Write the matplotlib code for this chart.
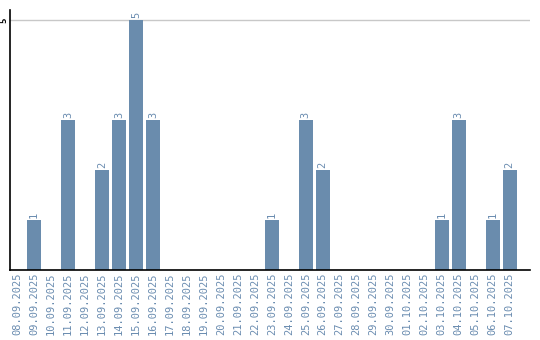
import matplotlib
matplotlib.use('Agg')
import matplotlib.pyplot as plt

dates = ['08.09.2025', '09.09.2025', '10.09.2025', '11.09.2025', '12.09.2025',
         '13.09.2025', '14.09.2025', '15.09.2025', '16.09.2025', '17.09.2025',
         '18.09.2025', '19.09.2025', '20.09.2025', '21.09.2025', '22.09.2025',
         '23.09.2025', '24.09.2025', '25.09.2025', '26.09.2025', '27.09.2025',
         '28.09.2025', '29.09.2025', '30.09.2025', '01.10.2025', '02.10.2025',
         '03.10.2025', '04.10.2025', '05.10.2025', '06.10.2025', '07.10.2025']
counts = [0, 1, 0, 3, 0, 2, 3, 5, 3, 0, 0, 0, 0, 0, 0,
          1, 0, 3, 2, 0, 0, 0, 0, 0, 0, 1, 3, 0, 1, 2]

bar_color = '#6a8cad'
label_color = '#6a8cb0'

fig = plt.figure(figsize=(5.4, 3.4), dpi=100)
ax = fig.add_axes([10 / 540, 70 / 340, 520 / 540, 260 / 340])

x = list(range(len(dates)))
ax.bar(x, counts, width=0.82, color=bar_color, zorder=2)
for i, c in enumerate(counts):
    if c > 0:
        ax.text(i, c + 0.04, str(c), rotation=90, ha='center', va='bottom',
                color=label_color, fontsize=7.5, family='DejaVu Sans Mono')

ax.set_xlim(-0.41, 30.2)
ax.set_ylim(0, 5.2)
ax.axhline(5, color='#c8c8c8', lw=1, zorder=1)

ax.set_xticks(x)
ax.set_xticklabels(dates, rotation=90, color=label_color, fontsize=7.5,
                   family='DejaVu Sans Mono')
ax.set_yticks([5])
ax.set_yticklabels(['5'], rotation=90, va='center', fontsize=6.5,
                   family='DejaVu Sans Mono', fontweight='bold')
ax.tick_params(axis='both', length=0, pad=2)
ax.tick_params(axis='y', pad=1)

for s in ['top', 'right']:
    ax.spines[s].set_visible(False)
ax.spines['left'].set_linewidth(1.2)
ax.spines['bottom'].set_linewidth(1.2)

fig.savefig('out.png', dpi=100)
